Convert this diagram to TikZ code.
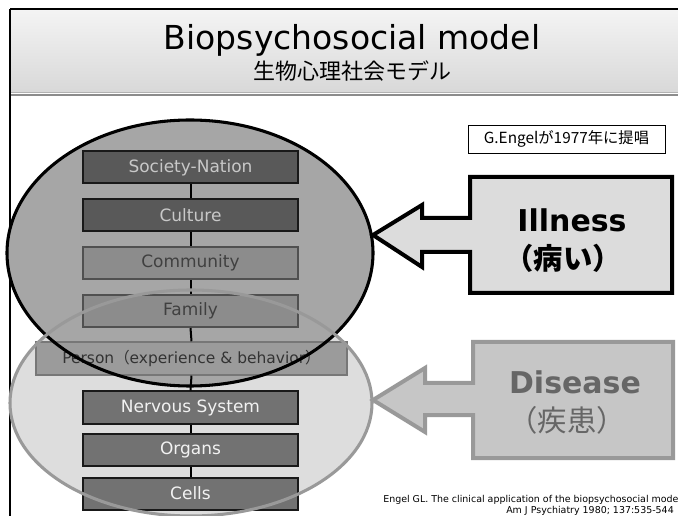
\documentclass[tikz,border=0pt]{standalone}
\usepackage{fontspec}
\setmainfont{DejaVu Sans}
\newfontfamily\jp{Noto Sans CJK JP}
\usetikzlibrary{shapes.geometric}

\definecolor{hdrtop}{HTML}{F4F4F4}
\definecolor{hdrbot}{HTML}{D8D8D8}
\definecolor{darkfill}{HTML}{595959}
\definecolor{darktext}{HTML}{C8C8C8}
\definecolor{midfill}{HTML}{8C8C8C}
\definecolor{midtext}{HTML}{404040}
\definecolor{midline}{HTML}{505050}
\definecolor{perfill}{HTML}{9B9B9B}
\definecolor{perline}{HTML}{777777}
\definecolor{biofill}{HTML}{727272}
\definecolor{biotext}{HTML}{F2F2F2}
\definecolor{illfill}{HTML}{A6A6A6}
\definecolor{disfill}{HTML}{DDDDDD}
\definecolor{disline}{HTML}{999999}
\definecolor{calloutA}{HTML}{DCDCDC}
\definecolor{calloutB}{HTML}{C6C6C6}
\definecolor{distext}{HTML}{666666}

\tikzset{
  level/.style={rectangle, minimum width=161.25pt, minimum height=24pt,
    inner sep=0pt, line width=1.5pt, font=\fontsize{12.75}{15}\selectfont},
  societal/.style={level, fill=darkfill, draw=black!90, text=darktext},
  communal/.style={level, fill=midfill, draw=midline, text=midtext},
  personal/.style={level, minimum width=233.25pt, minimum height=24.75pt,
    fill=perfill, draw=perline, line width=1.1pt, text=black!80,
    font=\fontsize{11.6}{14}\selectfont},
  biological/.style={level, fill=biofill, draw=black!90, text=biotext},
  link/.style={line width=1.5pt, black},
  zone/.style={ellipse, inner sep=0pt},
  citation/.style={anchor=base west, inner sep=0pt, font=\fontsize{7.1}{8}\selectfont},
}

\begin{document}
\begin{tikzpicture}[x=0.75pt, y=-0.75pt]
\useasboundingbox (0,0) rectangle (678,516);
\clip (0,0) rectangle (678,516);
\fill[white] (0,0) rectangle (678,516);

% header band
\shade[top color=hdrtop, bottom color=hdrbot] (10,9) rectangle (678,93);
\draw[black!30, line width=0.75pt] (10,92.5) -- (678,92.5);
\draw[black!45, line width=1.5pt] (10,95.5) -- (678,95.5);
\draw[black, line width=1.4pt] (10,9) -- (678,9);
\draw[black, line width=1pt] (10,9) -- (10,516);

\node[anchor=base, font=\fontsize{24.75}{30}\selectfont] (title) at (352,50) {Biopsychosocial model};
\node[anchor=base, font=\jp\fontsize{16.5}{20}\selectfont] (subtitle) at (352,80) {生物心理社会モデル};

% shaded zones behind the hierarchy
\node[zone, fill=disfill, minimum width=271.5pt, minimum height=169.5pt] (disE) at (191,403) {};
\node[zone, fill=illfill, minimum width=274.5pt, minimum height=199.5pt] (illE) at (190,253) {};

% hierarchy of systems
\node[societal] (sn) at (190.5,167.5) {Society-Nation};
\node[societal] (cu) at (190.5,215) {Culture};
\node[communal] (co) at (190.5,263) {Community};
\node[communal] (fa) at (190.5,311) {Family};
\node[personal] (pe) at (191.5,358.5) {Person{\jp（}experience \& behavior{\jp）}};
\node[biological] (ns) at (190.5,407.5) {Nervous System};
\node[biological] (or) at (190.5,450) {Organs};
\node[biological] (ce) at (190.5,493.5) {Cells};

\foreach \a/\b in {sn/cu, cu/co, co/fa, fa/pe, pe/ns, ns/or, or/ce}
  \draw[link] (\a.south) -- (\b.north);

% zone outlines
\draw[black, line width=2.3pt] (illE.center) ellipse [x radius=183, y radius=133];
\draw[disline, line width=2.3pt] (disE.center) ellipse [x radius=181, y radius=113];

% attribution
\node[draw=black, line width=0.6pt, minimum width=147.75pt, minimum height=21pt, inner sep=0pt,
  font=\jp\fontsize{11.5}{13}\selectfont] (engel) at (566.5,139) {G.Engelが1977年に提唱};

% Illness callout
\coordinate (illTip) at (373,235);
\draw[black, line width=3pt, fill=calloutA, line join=miter]
  (illTip) -- (422,205) -- (422,218) -- (470,218) -- (470,177) -- (672,177)
  -- (672,293) -- (470,293) -- (470,252) -- (422,252) -- (422,267) -- cycle;
\node[font=\bfseries\fontsize{22.5}{27}\selectfont] (ill) at (572,220) {Illness};
\node[font=\jp\bfseries\fontsize{22}{26}\selectfont] (illjp) at (563,258) {（病い）};

% Disease callout
\coordinate (disTip) at (373,400);
\draw[disline, line width=3pt, fill=calloutB, line join=miter]
  (disTip) -- (425,368) -- (425,383) -- (473,383) -- (473,342) -- (673,342)
  -- (673,458) -- (473,458) -- (473,415) -- (425,415) -- (425,432) -- cycle;
\node[text=distext, font=\bfseries\fontsize{22.5}{27}\selectfont] (dis) at (575,382) {Disease};
\node[text=distext, font=\jp\fontsize{22}{26}\selectfont] (disjp) at (567,420) {（疾患）};

% reference
\node[citation] (ref1) at (383,502)
  {Engel GL. The clinical application of the biopsychosocial model.};
\node[citation] (ref2) at (506,513)
  {Am J Psychiatry 1980; 137:535-544};
\end{tikzpicture}
\end{document}
